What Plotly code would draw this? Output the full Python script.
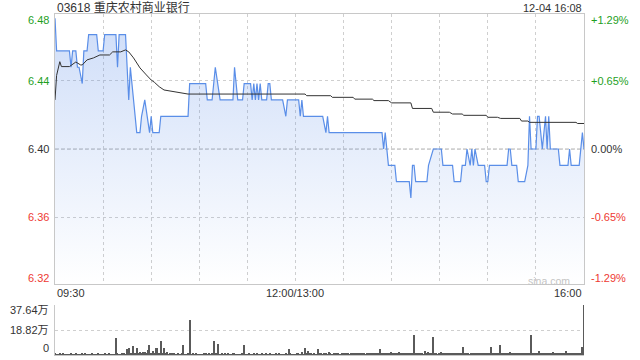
import plotly.graph_objects as go

# ---------------- data ----------------
title_text = "03618 重庆农村商业银行"
stamp_text = "12-04 16:08"
prev_close = 6.40
pct_ticks = [-1.29, -0.65, 0.0, 0.65, 1.29]
price_tick_labels = ["6.32", "6.36", "6.40", "6.44", "6.48"]
pct_tick_labels = ["-1.29%", "-0.65%", "0.00%", "+0.65%", "+1.29%"]
time_label_pos = [0, 150, 330]
time_labels = ["09:30", "12:00/13:00", "16:00"]
grid_minutes = [0, 30, 60, 90, 120, 150, 180, 210, 240, 270, 300, 330]

# price (minute index from 09:30, lunch removed)
price_min = [0, 1, 9, 10, 11, 13, 14, 15, 17, 18, 20, 21, 26, 27, 30, 31, 38, 39, 40, 44,
             46, 47, 51, 53, 54, 56, 59, 60, 61, 65, 66, 83, 84, 94, 95, 98, 100, 103, 111, 112,
             114, 117, 118, 122, 123, 124, 125, 126, 127, 128, 129, 132, 133, 134, 135, 142, 144, 145, 152, 153,
             154, 155, 167, 169, 170, 171, 204, 205, 206, 207, 208, 212, 213, 221, 222, 223, 224, 225, 232, 233,
             236, 241, 242, 248, 249, 253, 254, 256, 257, 259, 260, 261, 262, 264, 268, 269, 270, 271, 282, 283,
             284, 285, 288, 289, 293, 295, 296, 297, 300, 301, 302, 304, 306, 307, 308, 309, 314, 315, 320, 321,
             322, 327, 329, 330]
price_val = [6.48, 6.46, 6.46, 6.45, 6.46, 6.46, 6.45, 6.45, 6.44, 6.46, 6.46, 6.47, 6.47, 6.46, 6.46, 6.47, 6.47, 6.45, 6.47, 6.47,
             6.43, 6.45, 6.41, 6.41, 6.42, 6.43, 6.41, 6.42, 6.41, 6.41, 6.42, 6.42, 6.44, 6.44, 6.43, 6.43, 6.45, 6.43, 6.43, 6.45,
             6.43, 6.43, 6.44, 6.44, 6.43, 6.44, 6.43, 6.44, 6.43, 6.44, 6.43, 6.43, 6.44, 6.44, 6.43, 6.43, 6.42, 6.43, 6.43, 6.42,
             6.43, 6.42, 6.42, 6.41, 6.42, 6.41, 6.41, 6.40, 6.41, 6.40, 6.39, 6.39, 6.38, 6.38, 6.37, 6.39, 6.39, 6.38, 6.38, 6.39,
             6.40, 6.40, 6.39, 6.39, 6.38, 6.38, 6.39, 6.39, 6.40, 6.39, 6.40, 6.39, 6.40, 6.39, 6.39, 6.38, 6.38, 6.39, 6.39, 6.40,
             6.40, 6.39, 6.39, 6.38, 6.38, 6.39, 6.42, 6.40, 6.40, 6.42, 6.42, 6.40, 6.42, 6.40, 6.42, 6.40, 6.40, 6.39, 6.39, 6.40,
             6.39, 6.39, 6.41, 6.40]

# average price line
avg_min = [0, 1, 3, 4, 9, 11, 13, 16, 17, 20, 24, 28, 34, 36, 41, 44, 46, 49, 53, 57,
           60, 62, 65, 68, 75, 80, 83, 156, 157, 172, 173, 186, 187, 198, 199, 208, 210, 222, 223, 235,
           236, 246, 248, 254, 255, 269, 270, 276, 278, 290, 291, 295, 296, 325, 326, 330]
avg_val = [6.430, 6.445, 6.4534, 6.4504, 6.4504, 6.4520, 6.4532, 6.4514, 6.4514, 6.4545,
           6.4557, 6.4575, 6.4575, 6.4594, 6.4594, 6.4606, 6.4594, 6.4557, 6.4496, 6.4453,
           6.4422, 6.4408, 6.4381, 6.4361, 6.4351, 6.4341, 6.4336, 6.4336, 6.4326, 6.4326,
           6.4316, 6.4316, 6.4305, 6.4305, 6.4296, 6.4296, 6.4282, 6.4282, 6.4248, 6.4248,
           6.4225, 6.4225, 6.4214, 6.4214, 6.4206, 6.4206, 6.4194, 6.4194, 6.4187, 6.4187,
           6.4171, 6.4171, 6.4163, 6.4163, 6.4156, 6.4156]

# volume per minute (万)
vol_val = [
    1.2, 0.6, 0.4, 0.8, 0.5, 1.5, 0.6, 0.4, 0.7, 0.5, 0.9, 0.4, 0.6, 1.0, 0.5, 0.7, 0.4, 0.8, 0.6, 1.1, 0.5, 0.4, 0.7, 0.9, 0.5, 0.6, 0.4, 1.2, 0.5, 0.6,
    0.4, 0.8, 0.5, 0.6, 0.9, 0.4, 0.5, 0.7, 12.6, 0.8, 0.5, 0.6, 1.0, 1.5, 0.7, 4.3, 5.0, 1.2, 1.0, 6.8, 1.5, 5.0, 0.9, 2.0, 1.1, 2.5, 2.0, 1.3, 4.0, 7.5,
    1.2, 3.0, 1.0, 5.0, 5.4, 1.4, 10.5, 1.0, 5.4, 0.8, 2.0, 0.6, 0.9, 1.5, 1.0, 0.5, 0.7, 1.0, 0.6, 0.8, 7.5, 0.6, 0.5, 1.5, 26.3, 0.7, 0.8, 0.5, 0.8, 0.6,
    0.5, 0.7, 0.6, 1.5, 0.8, 0.5, 0.9, 0.6, 1.5, 10.5, 0.8, 1.0, 8.3, 0.6, 1.0, 0.5, 0.8, 0.6, 1.5, 0.7, 0.5, 0.9, 0.8, 0.6, 0.5, 0.7, 0.6, 0.8, 7.5, 0.6,
    0.5, 1.5, 0.7, 0.6, 0.9, 0.5, 0.8, 0.6, 0.7, 1.0, 0.5, 0.6, 0.8, 0.5, 0.9, 0.6, 0.7, 0.5, 1.0, 0.6, 0.8, 0.5, 0.7, 0.6, 0.9, 0.5, 4.5, 0.8, 0.6, 0.7,
    0.6, 1.5, 0.8, 0.6, 2.0, 0.7, 5.4, 1.0, 3.0, 0.8, 1.5, 0.6, 0.9, 0.7, 4.5, 0.8, 1.0, 0.6, 1.2, 0.8, 0.7, 2.0, 1.0, 0.6, 1.3, 1.5, 0.8, 1.1, 0.7, 1.2,
    0.8, 1.5, 0.9, 1.2, 0.7, 1.0, 1.3, 0.8, 1.7, 0.9, 1.1, 0.8, 1.2, 1.0, 0.7, 1.0, 1.3, 0.9, 1.2, 0.8, 1.4, 1.0, 0.9, 4.5, 1.1, 0.8, 1.2, 1.0, 1.4, 0.9,
    2.3, 1.0, 0.8, 1.4, 1.1, 2.0, 0.9, 1.2, 1.5, 1.0, 1.3, 0.8, 1.6, 1.1, 15.0, 0.9, 1.2, 0.8, 1.5, 1.0, 0.7, 3.0, 1.1, 2.0, 0.8, 1.0, 13.5, 0.9, 1.2, 0.7,
    1.0, 2.5, 0.8, 1.2, 1.0, 1.4, 0.8, 1.1, 1.3, 1.0, 0.9, 1.5, 1.0, 1.2, 0.8, 6.0, 1.1, 0.9, 1.3, 0.7, 1.0, 1.2, 0.8, 1.1, 1.5, 0.9, 1.3, 0.8, 1.2, 1.0,
    0.8, 1.2, 6.0, 1.0, 0.9, 1.4, 0.8, 1.1, 7.5, 1.0, 1.3, 0.9, 1.2, 0.8, 2.5, 1.0, 1.3, 0.9, 1.1, 1.5, 0.8, 1.2, 1.0, 1.4, 0.9, 1.1, 1.3, 15.0, 0.9, 1.2,
    1.0, 1.4, 3.0, 1.1, 0.8, 1.3, 1.0, 1.2, 1.5, 0.9, 1.1, 2.0, 1.3, 0.8, 1.2, 1.5, 1.0, 0.9, 1.3, 3.0, 1.1, 0.8, 1.4, 1.0, 1.2, 1.0, 0.9, 1.3, 1.1, 6.0,
    37.64,
]
vol_min = list(range(len(vol_val)))

assert len(price_min) == len(price_val)
assert len(avg_min) == len(avg_val)

# ---------------- styling ----------------
FONT = "Liberation Sans, Arial, Noto Sans CJK SC, sans-serif"
GREEN = "#1f9f1f"
RED = "#ee3a33"
DARK = "#333333"
GRID = "#cfcfcf"
BORDER = "#c8c8c8"

tick_prices = [prev_close * (1 + p / 100) for p in pct_ticks]


def col(p):
    return GREEN if p > 0 else (RED if p < 0 else DARK)


edge_shift = [6, 0, 0, 0, -6]

vmax = max(vol_val)
vol_ticks = [0, vmax / 2, vmax]
vol_labels = ["0", f"{vmax/2:.2f}万", f"{vmax:.2f}万"]
vol_shift = [7, 0, -5]

fig = go.Figure()

fig.add_trace(go.Scatter(
    x=price_min, y=price_val, mode="lines",
    line=dict(color="#5a8ee8", width=1.2),
    fill="tozeroy",
    fillgradient=dict(type="vertical", start=tick_prices[0], stop=tick_prices[-1],
                      colorscale=[[0, "rgba(90,140,232,0.0)"], [1, "rgba(90,140,232,0.30)"]]),
    xaxis="x", yaxis="y", hoverinfo="skip", showlegend=False,
))
fig.add_trace(go.Scatter(
    x=avg_min, y=avg_val, mode="lines",
    line=dict(color="#333333", width=1),
    xaxis="x", yaxis="y", hoverinfo="skip", showlegend=False,
))
fig.add_trace(go.Bar(
    x=vol_min, y=vol_val, marker=dict(color="#5a5a5a", line=dict(width=0)),
    width=0.65, xaxis="x2", yaxis="y2", hoverinfo="skip", showlegend=False,
))

main_dom = [0.2082, 1.0]
vol_dom = [0.0, 0.1466]

fig.update_layout(
    width=640, height=360,
    margin=dict(l=55, r=56, t=14, b=5, pad=0, autoexpand=False),
    paper_bgcolor="white", plot_bgcolor="rgba(0,0,0,0)",
    font=dict(family=FONT, size=11, color=DARK),
    bargap=0,
    xaxis=dict(domain=[0, 1], anchor="y", range=[0, 330],
               tickvals=grid_minutes, showticklabels=False, ticks="",
               showgrid=True, gridcolor=GRID, griddash="dot", gridwidth=1,
               showline=True, mirror=True, linecolor=BORDER, linewidth=1,
               zeroline=False, automargin=False),
    yaxis=dict(domain=main_dom, anchor="x", range=[tick_prices[0], tick_prices[-1]],
               tickvals=tick_prices, showticklabels=False, ticks="",
               showgrid=True, gridcolor=GRID, griddash="dot", gridwidth=1,
               showline=True, mirror=True, linecolor=BORDER, linewidth=1,
               zeroline=False, automargin=False),
    xaxis2=dict(domain=[0, 1], anchor="y2", range=[0, 330.3],
                showticklabels=False, ticks="", showgrid=False,
                showline=True, linecolor=BORDER, linewidth=1, zeroline=False,
                automargin=False),
    yaxis2=dict(domain=vol_dom, anchor="x2", range=[0, vmax],
                tickvals=vol_ticks, showticklabels=False, ticks="",
                showgrid=True, gridcolor=GRID, griddash="dot", gridwidth=1,
                showline=True, linecolor=BORDER, linewidth=1, zeroline=False,
                automargin=False),
)

# previous-close reference line
fig.add_shape(type="line", xref="paper", x0=0, x1=1, yref="y", y0=prev_close, y1=prev_close,
              line=dict(color="#b4b4b4", width=1, dash="4px,2px"), layer="below")

ann = []
ann.append(dict(text=title_text, xref="paper", yref="paper", x=0, y=1.0205,
                xanchor="left", yanchor="middle", showarrow=False,
                font=dict(size=12, color=DARK, family=FONT)))
ann.append(dict(text=stamp_text, xref="paper", yref="paper", x=1, y=1.018,
                xanchor="right", yanchor="middle", showarrow=False,
                font=dict(size=11, color=DARK, family=FONT)))
# price / percent axis labels
for p, tp, lab_l, lab_r, s in zip(pct_ticks, tick_prices, price_tick_labels, pct_tick_labels, edge_shift):
    ann.append(dict(text=lab_l, xref="paper", yref="y", x=-0.008, y=tp, yshift=s,
                    xanchor="right", yanchor="middle", showarrow=False,
                    font=dict(size=11, color=col(p), family=FONT)))
    ann.append(dict(text=lab_r, xref="paper", yref="y", x=1.009, y=tp, yshift=s,
                    xanchor="left", yanchor="middle", showarrow=False,
                    font=dict(size=11, color=col(p), family=FONT)))
anchors = ["left", "center", "right"]
for pos, lab, a in zip(time_label_pos, time_labels, anchors):
    ann.append(dict(text=lab, xref="x", yref="paper", x=pos, y=0.181,
                    xanchor=a, yanchor="middle", showarrow=False,
                    font=dict(size=11, color=DARK, family=FONT)))
for v, lab, s in zip(vol_ticks, vol_labels, vol_shift):
    ann.append(dict(text=lab, xref="paper", yref="y2", x=-0.008, y=v, yshift=s,
                    xanchor="right", yanchor="middle", showarrow=False,
                    font=dict(size=11, color=DARK, family=FONT)))
ann.append(dict(text="sina.com", xref="paper", yref="paper", x=0.978, y=0.218,
                xanchor="right", yanchor="middle", showarrow=False,
                font=dict(size=10.5, color="#c4c4c4", family=FONT)))
fig.update_layout(annotations=ann)

fig.write_html("out.html", config={"displayModeBar": False})
